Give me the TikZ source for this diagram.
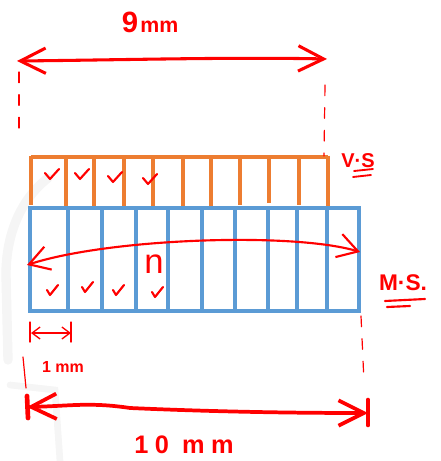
\documentclass[tikz,border=0pt]{standalone}
\usepackage{fontspec}
\setmainfont{Liberation Sans}
\usetikzlibrary{arrows.meta}
\definecolor{vsorange}{HTML}{ED7D31}
\definecolor{msblue}{HTML}{5B9BD5}
\definecolor{ink}{HTML}{FF0000}
\definecolor{ghost}{HTML}{F5F5F5}

\tikzset{
  bigbarb/.tip={Straight Barb[length=19pt,width=19pt]},
  midbarb/.tip={Straight Barb[length=15pt,width=18pt]},
  smallbarb/.tip={Straight Barb[length=6pt,width=9pt]}
}

\begin{document}
\begin{tikzpicture}[x=0.75pt,y=-0.75pt,
  ink/.style={draw=ink,line cap=round,line join=round},
  vsline/.style={draw=vsorange,line width=3pt,line cap=butt},
  msline/.style={draw=msblue,line width=3pt},
  tick/.style={ink,line width=1.6pt},
  guide/.style={ink,line width=0.9pt,dash pattern=on 8pt off 9pt},
  lbl/.style={text=ink,inner sep=0pt,font=\bfseries}]

\useasboundingbox (0,0) rectangle (441,461);

% faint background strokes
\draw[ghost,line width=7pt,line cap=round] (48,178) .. controls (20,200) and (6,235) .. (6,275) -- (8,360);
\draw[ghost,line width=5pt,line cap=round] (10,385) -- (55,390) -- (60,461);

% vernier scale (orange comb)
\draw[vsline] (31,157) -- (328,157);
\foreach \x/\b in {31/205,66/207,94/207,124/209,153/209,183/209,211/207,240/205,269/203,299/205,328/207}
  \draw[vsline] (\x,155.5) -- (\x,\b);

% main scale (blue grid)
\draw[msline] (30,208) rectangle (359,311);
\foreach \x in {68,102,136,168,202,235,268,297,327}
  \draw[msline] (\x,208) -- (\x,311);

% extension guides
\draw[guide] (19,72) -- (19,130);
\draw[guide] (325,85) -- (324,156);
\draw[guide] (361,316) -- (364,382);
\draw[ink,line width=0.9pt] (23,357) -- (26,388);

% 9 mm dimension
\coordinate (t1) at (17,61);
\coordinate (t2) at (327,59);
\draw[ink,line width=2.3pt,bigbarb-bigbarb] (t1) .. controls (120,60) and (230,57) .. (t2);
\node[lbl] (nine) at (150,22) {{\fontsize{22}{22}\selectfont 9}\,{\fontsize{16}{16}\selectfont mm}};

% coincidence arrow across the main scale
\coordinate (c1) at (27,265);
\coordinate (c2) at (360,252);
\draw[ink,line width=1.6pt,midbarb-midbarb] (c1) .. controls (110,238) and (294,232) .. (c2);
\node[lbl,font=\normalfont] (nn) at (154,264) {\fontsize{26}{26}\selectfont n};

% check marks on the vernier
\foreach \x/\y in {52/175,82/175,115/178,150/180}
  \draw[tick] (\x-7,\y-2) -- (\x-2,\y+4) -- (\x+7,\y-6);
% check marks on the main scale
\foreach \x/\y in {52/290,87/287,118/290,157/292}
  \draw[tick] (\x-5,\y) -- (\x-2,\y+5) -- (\x+6,\y-5);

% scale labels
\node[lbl] (vs) at (358,161) {\fontsize{15}{15}\selectfont V·S};
\draw[ink,line width=1.4pt] (354,171) -- (373,169);
\draw[ink,line width=1.4pt] (353,177) -- (371,175);
\node[lbl] (ms) at (403,283) {\fontsize{17}{17}\selectfont M·S.};
\draw[ink,line width=1.6pt] (385,301) -- (425,299);
\draw[ink,line width=1.6pt] (387,307) -- (410,306);

% 1 mm dimension
\coordinate (s1) at (31,333);
\coordinate (s2) at (71,333);
\draw[ink,line width=1pt] (30,322) -- (30,342);
\draw[ink,line width=1pt] (71,322) -- (71,342);
\draw[ink,line width=1pt,smallbarb-smallbarb] (s1) -- (s2);
\node[lbl] (one) at (63,367) {\fontsize{12}{12}\selectfont 1 mm};

% 10 mm dimension
\coordinate (b1) at (27,407);
\coordinate (b2) at (368,413);
\draw[ink,line width=3.5pt] (27,396) -- (28,418);
\draw[ink,line width=3.5pt] (368,400) -- (368,425);
\draw[ink,line width=2.8pt,bigbarb-bigbarb] (b1) .. controls (70,406) and (90,402) .. (130,408) .. controls (220,412) and (300,413) .. (b2);
\node[lbl] (ten) at (184,445) {\fontsize{19}{19}\selectfont\addfontfeatures{LetterSpace=25}10 mm};

\end{tikzpicture}
\end{document}
